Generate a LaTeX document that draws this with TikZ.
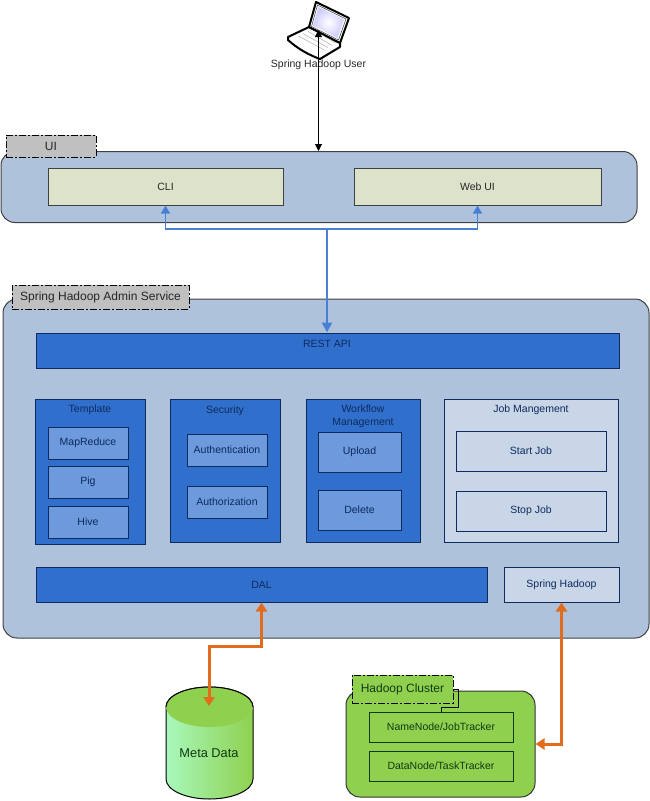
\documentclass[tikz,border=0pt]{standalone}
\usepackage{fontspec}
\setmainfont{Liberation Sans}
\usetikzlibrary{arrows.meta}
\definecolor{panelblue}{HTML}{AFC2DC}
\definecolor{darkblue}{HTML}{3070CC}
\definecolor{midblue}{HTML}{6C9ADC}
\definecolor{paleblue}{HTML}{C8D6E8}
\definecolor{navy}{HTML}{0E2A5E}
\definecolor{cream}{HTML}{DDE2CA}
\definecolor{taggray}{HTML}{C0C0C0}
\definecolor{leafgreen}{HTML}{8FD14F}
\definecolor{mintgreen}{HTML}{A8F8BC}
\definecolor{darkgreen}{HTML}{0E3A12}
\definecolor{linkblue}{HTML}{4A80D4}
\definecolor{linkorange}{HTML}{E06C1C}
\tikzset{
  every node/.style={font=\fontsize{10.5}{13}\selectfont,text=black!85,inner sep=0pt},
  panel/.style={draw=black!75,line width=1pt,fill=panelblue,rounded corners=14pt},
  tagbox/.style={draw=black,line width=1pt,fill=taggray,dash pattern=on 7pt off 2pt on 2pt off 2pt,font=\fontsize{12}{14}\selectfont},
  box/.style={draw=navy,line width=1pt},
  darkbox/.style={box,fill=darkblue,text=navy},
  midbox/.style={box,fill=midblue,text=navy},
  palebox/.style={box,fill=paleblue,text=navy},
  greenbox/.style={draw=darkgreen,line width=1pt,text=darkgreen},
  bluelink/.style={draw=linkblue,line width=1.6pt,color=linkblue,{Triangle[width=9pt,length=8pt]}-{Triangle[width=9pt,length=8pt]}},
  orangelink/.style={draw=linkorange,line width=3pt,color=linkorange,{Triangle[width=11pt,length=9pt]}-{Triangle[width=11pt,length=9pt]}},
}
\begin{document}
\begin{tikzpicture}[x=1pt,y=-1pt]
  \useasboundingbox (0,0) rectangle (649,801);
  % panels
  \node[panel,minimum width=636pt,minimum height=71pt] (uipanel) at (319,187) {};
  \node[panel,minimum width=646pt,minimum height=339pt] (adminpanel) at (326,468.5) {};
  \node[tagbox,minimum width=90pt,minimum height=22pt] (uitag) at (51,146) {UI};
  \node[tagbox,minimum width=177pt,minimum height=24pt] (admintag) at (100.5,297) {Spring Hadoop Admin Service};
  % boxes: name/x/y/width/height/text
  \foreach \n/\x/\y/\w/\h/\t in {cli/165.5/186.5/235/37/CLI,webui/477.5/186.5/247/37/Web UI}
    {\node[box,draw=black!75,fill=cream,minimum width=\w pt,minimum height=\h pt] (\n) at (\x,\y) {\t};}
  \foreach \n/\x/\y/\w/\h in {rest/327.5/350.5/583/35,template/90/471.5/110/145,security/225/470.5/110/143,workflow/363/470.5/114/143,dal/261.5/584.5/451/35}
    {\node[darkbox,minimum width=\w pt,minimum height=\h pt] (\n) at (\x,\y) {};}
  \foreach \n/\x/\y/\w/\h/\t in {mapreduce/88/443/80/32/MapReduce,pig/88/482/80/32/Pig,hive/88/522/80/32/Hive,authn/227/450/80/32/Authentication,authz/227/502/80/32/Authorization,upload/359.5/452/83/40/Upload,delete/359.5/510/83/40/Delete}
    {\node[midbox,minimum width=\w pt,minimum height=\h pt] (\n) at (\x,\y) {\t};}
  \foreach \n/\x/\y/\w/\h/\t in {jobs/531/470.5/174/143/{},startjob/531/451/150/40/Start Job,stopjob/531/511/150/40/Stop Job,springhadoop/561.5/584.5/115/35/Spring Hadoop}
    {\node[palebox,minimum width=\w pt,minimum height=\h pt] (\n) at (\x,\y) {\t};}
  % titles
  \node[text=navy] (resttitle) at (327,343.5) {REST API};
  \node[text=navy] (dallabel) at (261.5,584.5) {DAL};
  \node[text=navy] (templatetitle) at (90,410) {Template};
  \node[text=navy] (securitytitle) at (225,410.5) {Security};
  \node[text=navy,align=center] (workflowtitle) at (363,416) {Workflow\\Management};
  \node[text=navy] (jobstitle) at (531,409.5) {Job Mangement};
  % meta data
  \path[left color=mintgreen,right color=leafgreen,draw=black,line width=1pt]
    (166,707) -- (166,779) arc[start angle=180,end angle=360,x radius=43.5,y radius=-20] -- (253,707)
    arc[start angle=0,end angle=-180,x radius=43.5,y radius=20];
  \fill[leafgreen] (253,707) arc[start angle=0,end angle=360,x radius=43.5,y radius=20];
  \draw[line width=1pt] (253,707) arc[start angle=0,end angle=-180,x radius=43.5,y radius=20];
  \node[font=\fontsize{12.8}{15}\selectfont,text=darkgreen] (metadata) at (209,753) {Meta Data};
  \coordinate (metatop) at (209,706);
  % hadoop cluster
  \node[draw=black!80,line width=1pt,fill=leafgreen,rounded corners=14pt,minimum width=189pt,minimum height=106pt] (cluster) at (440.5,744) {};
  \draw[line width=1pt] (453,689) -- (458,689) -- (458,707) -- (441,707) -- (441,712);
  \node[tagbox,fill=leafgreen,text=darkgreen,minimum width=101pt,minimum height=28pt] (clustertag) at (402.5,689) {Hadoop Cluster};
  \node[greenbox,minimum width=144pt,minimum height=30pt] (namenode) at (441,727) {NameNode/JobTracker};
  \node[greenbox,minimum width=144pt,minimum height=30pt] (datanode) at (441,766) {DataNode/TaskTracker};
  % laptop
  \coordinate (laptop) at (318.5,30);
  \filldraw[fill=white,draw=black,line width=2pt,line join=round] (309,27) -- (288,37) -- (288,40)
    .. controls (298,49) and (309,55) .. (320,59) -- (340,47) -- (340,43) -- cycle;
  \foreach \i in {1,...,5}
    {\draw[black!30,line width=.5pt] (293+\i*5,38-\i*2.2) -- (320+\i*4,52-\i*2.2);}
  \filldraw[fill=white,draw=black,line width=2pt,line join=round] (316,2) -- (349,18) -- (340,43) -- (309,27) -- cycle;
  \draw[black!70,line width=.6pt] (317.5,5) -- (346,19) -- (338.5,40) -- (311.5,26.5) -- cycle;
  \shade[inner color=white,outer color=blue!20] (318.5,7) -- (344,19.5) -- (337.5,38) -- (313,25.5) -- cycle;
  \node (user) at (318.5,65) {Spring Hadoop User};
  % connectors
  \draw[black,line width=1pt,{Triangle[width=7pt,length=7pt]}-{Triangle[width=7pt,length=7pt]}] (laptop) -- (laptop |- uipanel.north);
  \coordinate (bluejoin) at (327,229);
  \draw[bluelink] (cli.south) -- (cli.south |- bluejoin) -- (webui.south |- bluejoin) -- (webui.south);
  \draw[linkblue,line width=2.4pt,-{Triangle[width=10pt,length=10pt]}] (bluejoin) -- (bluejoin |- rest.north);
  \coordinate (dalbend) at (261.5,646);
  \draw[orangelink] (dal.south) -- (dalbend) -| (metatop);
  \coordinate (clusterbend) at (561.5,744);
  \draw[orangelink] (springhadoop.south) -- (clusterbend) -- (cluster.east);
\end{tikzpicture}
\end{document}
